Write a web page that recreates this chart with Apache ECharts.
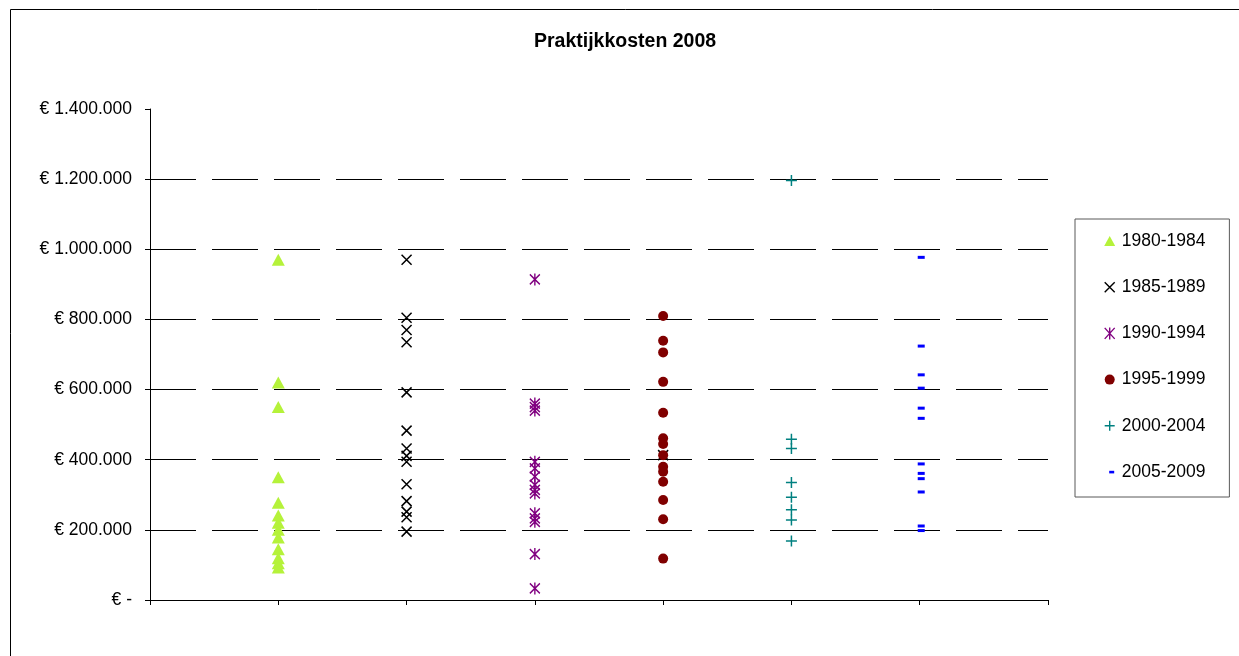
<!DOCTYPE html>
<html>
<head>
<meta charset="utf-8">
<title>Praktijkkosten 2008</title>
<script src="https://cdn.jsdelivr.net/npm/echarts@6/dist/echarts.min.js"></script>
<style>
  html, body { margin: 0; padding: 0; background: #fff; }
  #chart { width: 1239px; height: 656px; }
</style>
</head>
<body>
<div id="chart"></div>
<script>
// Practice costs per start-period group (euro)
const groupNames = ['1980-1984', '1985-1989', '1990-1994', '1995-1999', '2000-2004', '2005-2009'];
const groupPos = [1, 2, 3, 4, 5, 6];

const costs1980 = [970000, 620000, 550000, 350000, 277000, 241000, 220000, 200000, 178000, 145000, 119000, 105000, 93000];
const costs1985 = [970000, 805000, 770000, 735000, 592000, 483000, 432000, 411000, 394000, 330000, 282000, 252000, 236000, 195000];
const costs1990 = [914000, 560000, 550000, 540000, 394000, 375000, 352000, 328000, 314000, 304000, 247000, 233000, 223000, 131000, 33000];
const costs1995 = [810000, 739000, 706000, 622000, 534000, 461000, 445000, 413000, 380000, 366000, 337000, 285000, 230000, 118000];
const costs2000 = [1196000, 458000, 432000, 335000, 293000, 257000, 228000, 168000];
const costs2005 = [977000, 724000, 642000, 604000, 547000, 518000, 388000, 361000, 346000, 308000, 211000, 198000];
// one 1985-1989 entry sits in the 1995-1999 column
const extra1985 = [[4, 413000]];

const yTicks = [0, 200000, 400000, 600000, 800000, 1000000, 1200000, 1400000];
const yTickLabels = ['€ -', '€ 200.000', '€ 400.000', '€ 600.000', '€ 800.000', '€ 1.000.000', '€ 1.200.000', '€ 1.400.000'];

const groupValues = [costs1980, costs1985, costs1990, costs1995, costs2000, costs2005];

const FONT = '"Liberation Sans", Arial, sans-serif';

// marker shapes for the series and for the legend icons (legend icons padded into a 14x14 box)
const markers = [
  { symbol: 'triangle', size: [13, 12], fill: '#b5f23a', stroke: null,
    icon: 'path://M0,0M14,14M7,2L12.5,12L1.5,12Z' },
  { symbol: 'path://M0,0L10,10M0,10L10,0', size: [10, 10], fill: null, stroke: '#000000',
    icon: 'path://M0,0M14,14M2,2L12,12M2,12L12,2' },
  { symbol: 'path://M0,1L10,11M0,11L10,1M5,0L5,12', size: [10, 12], fill: null, stroke: '#800080',
    icon: 'path://M0,0M14,14M2,1.5L12,12.5M2,12.5L12,1.5M7,1V13' },
  { symbol: 'circle', size: 10, fill: '#800000', stroke: null,
    icon: 'path://M0,0M14,14M12,7A5,5,0,1,1,2,7A5,5,0,1,1,12,7Z' },
  { symbol: 'path://M5,0L5,10M0,5L10,5', size: [11, 11], fill: null, stroke: '#008080',
    icon: 'path://M0,0M14,14M7,2V12M2,7H12' },
  { symbol: 'rect', size: [7, 3], fill: '#0000ff', stroke: null,
    icon: 'path://M0,0M14,14M6.5,5.8H11.5V8.4H6.5Z' }
];

function styleOf(m) {
  return m.stroke
    ? { color: 'transparent', borderColor: m.stroke, borderWidth: 1.5, opacity: 1 }
    : { color: m.fill, borderWidth: 0, opacity: 1 };
}

const series = groupNames.map((name, i) => {
  const m = markers[i];
  let data = groupValues[i].map(v => [groupPos[i], v]);
  if (i === 1) data = data.concat(extra1985);
  return {
    name: name,
    type: 'scatter',
    data: data,
    symbol: m.symbol,
    symbolSize: m.size,
    symbolOffset: i === 5 ? [1.5, 0] : [0, 0],
    itemStyle: styleOf(m),
    emphasis: { disabled: true },
    z: 2 + i
  };
});

const chart = echarts.init(document.getElementById('chart'), null, { renderer: 'canvas' });

chart.setOption({
  animation: false,
  backgroundColor: '#ffffff',
  textStyle: { fontFamily: FONT },
  title: {
    text: 'Praktijkkosten 2008',
    left: 534,
    top: 32,
    padding: 0,
    textStyle: { fontFamily: FONT, fontSize: 19.5, fontWeight: 'bold', color: '#000' }
  },
  legend: {
    orient: 'vertical',
    left: 1075,
    top: 219,
    padding: [13, 24, 16, 27],
    itemWidth: 14,
    itemHeight: 14,
    itemGap: 28.2,
    borderColor: '#595959',
    borderWidth: 1,
    backgroundColor: '#fff',
    selectedMode: false,
    textStyle: { fontFamily: FONT, fontSize: 17.5, lineHeight: 18, color: '#000' },
    data: groupNames.map((name, i) => ({
      name: name,
      icon: markers[i].icon,
      itemStyle: markers[i].stroke
        ? { color: 'transparent', borderColor: markers[i].stroke, borderWidth: 1.4 }
        : { color: markers[i].fill, borderWidth: 0 }
    }))
  },
  grid: { left: 150, right: 191, top: 109, bottom: 56, containLabel: false },
  xAxis: {
    type: 'value',
    min: 0,
    max: 7,
    interval: 1,
    axisLine: { show: true, onZero: false, lineStyle: { color: '#000', width: 1 } },
    axisTick: { show: true, inside: false, length: 5, lineStyle: { color: '#000' } },
    axisLabel: { show: false },
    splitLine: { show: false }
  },
  yAxis: {
    type: 'value',
    min: 0,
    max: 1400000,
    interval: 200000,
    axisLine: { show: true, onZero: false, lineStyle: { color: '#000', width: 1 } },
    axisTick: { show: true, inside: false, length: 5, lineStyle: { color: '#000' } },
    axisLabel: {
      margin: 18,
      fontFamily: FONT,
      fontSize: 17.5,
      color: '#000',
      formatter: v => {
        const k = yTicks.indexOf(v);
        return k >= 0 ? yTickLabels[k] : '';
      }
    },
    splitLine: {
      show: true,
      showMinLine: false,
      showMaxLine: false,
      lineStyle: { color: '#000', width: 1, type: [46, 16] }
    }
  },
  graphic: [{
    type: 'rect',
    shape: { x: 10.5, y: 9.5, width: 1300, height: 700 },
    style: { fill: 'none', stroke: '#000', lineWidth: 1 },
    silent: true,
    z: 100
  }],
  series: series
});
</script>
</body>
</html>
